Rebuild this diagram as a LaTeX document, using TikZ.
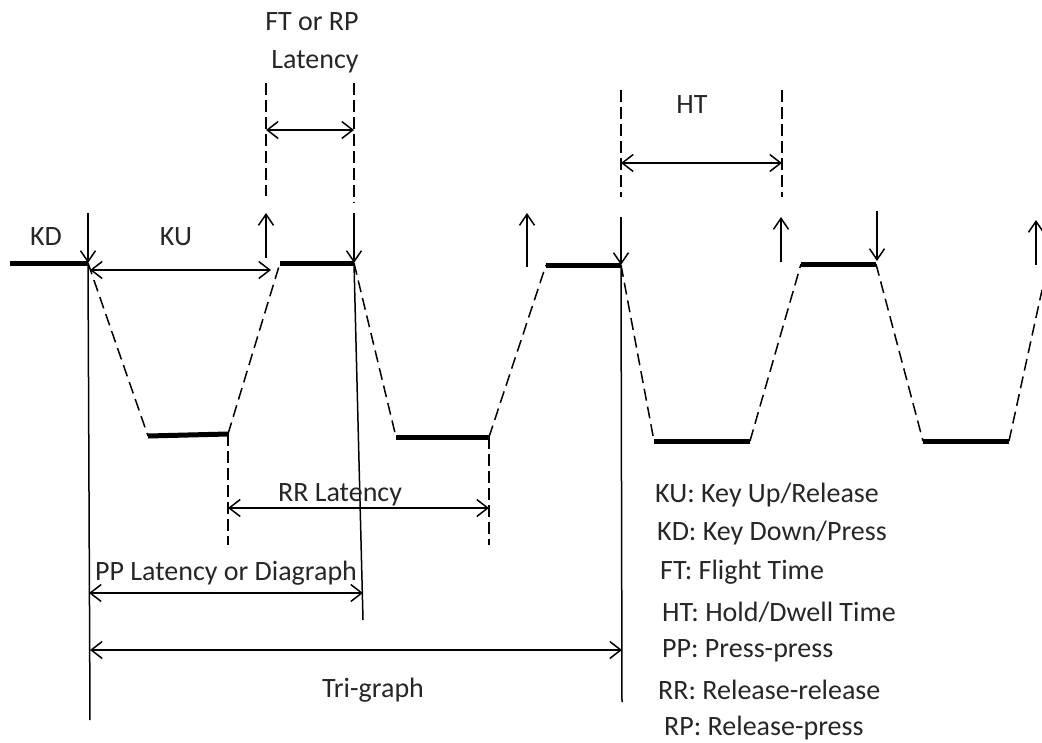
\documentclass[tikz,border=0pt]{standalone}
\usepackage{fontspec}
\setmainfont{Carlito}
\usetikzlibrary{arrows.meta}
\begin{document}
\begin{tikzpicture}[x=1pt,y=-1pt,
  level/.style={line width=5pt},
  slope/.style={line width=1.5pt, dash pattern=on 12pt off 6pt},
  guide/.style={line width=1.3pt, dash pattern=on 12pt off 5pt},
  solidline/.style={line width=1.5pt},
  dimarrow/.style={line width=1.5pt, {Straight Barb[length=11pt,width=17pt]}-{Straight Barb[length=11pt,width=17pt]}},
  keyarrow/.style={line width=1.5pt, -{Straight Barb[length=11pt,width=15pt]}},
  lbl/.style={font=\fontsize{28}{32}\selectfont, inner sep=0pt, text=black!85},
  legend/.style={lbl, anchor=west}]
\useasboundingbox (0,0) rectangle (1042,742);
% waveform points
\coordinate (s0) at (10,263);
\coordinate (d1) at (88,263);
\coordinate (b1l) at (148,436);
\coordinate (b1r) at (228,434);
\coordinate (t1l) at (280,263);
\coordinate (d2) at (354,263);
\coordinate (b2l) at (396,437);
\coordinate (b2r) at (489,437);
\coordinate (t2l) at (546,265);
\coordinate (d3) at (621,265);
\coordinate (b3l) at (654,441);
\coordinate (b3r) at (750,441);
\coordinate (t3l) at (801,264);
\coordinate (d4) at (876,264);
\coordinate (b4l) at (923,441);
\coordinate (b4r) at (1009,441);
\coordinate (eend) at (1042,290);
% levels
\draw[level] (s0) -- (d1);
\draw[level] (b1l) -- (b1r);
\draw[level] (t1l) -- (d2);
\draw[level] (b2l) -- (b2r);
\draw[level] (t2l) -- (d3);
\draw[level] (b3l) -- (b3r);
\draw[level] (t3l) -- (d4);
\draw[level] (b4l) -- (b4r);
% slopes
\draw[slope] (d1) -- (b1l);
\draw[slope] (b1r) -- (t1l);
\draw[slope] (d2) -- (b2l);
\draw[slope] (b2r) -- (t2l);
\draw[slope] (d3) -- (b3l);
\draw[slope] (b3r) -- (t3l);
\draw[slope] (d4) -- (b4l);
\draw[slope] (b4r) -- (eend);
% key arrows
\coordinate (ka1) at (88,213);
\coordinate (ka2a) at (266,258); \coordinate (ka2b) at (266,213);
\coordinate (ka3) at (354,213);
\coordinate (ka4a) at (527,267); \coordinate (ka4b) at (527,213);
\coordinate (ka5) at (621,217);
\coordinate (ka6a) at (781,262); \coordinate (ka6b) at (781,217);
\coordinate (ka7a) at (877,211); \coordinate (ka7b) at (877,261);
\coordinate (ka8a) at (1036,265); \coordinate (ka8b) at (1036,220);
\draw[keyarrow] (ka1) -- (d1);
\draw[keyarrow] (ka2a) -- (ka2b);
\draw[keyarrow] (ka3) -- (d2);
\draw[keyarrow] (ka4a) -- (ka4b);
\draw[keyarrow] (ka5) -- (d3);
\draw[keyarrow] (ka6a) -- (ka6b);
\draw[keyarrow] (ka7a) -- (ka7b);
\draw[keyarrow] (ka8a) -- (ka8b);
% long solid verticals
\coordinate (lv1) at (90,720);
\coordinate (lv2) at (363,620);
\coordinate (lv3) at (622,702);
\draw[solidline] (d1) -- (lv1);
\draw[solidline] (d2) -- (lv2);
\draw[solidline] (d3) -- (lv3);
% dashed guides
\coordinate (g1a) at (266,83);  \coordinate (g1b) at (266,196);
\coordinate (g2a) at (354,83);  \coordinate (g2b) at (354,203);
\coordinate (g3a) at (621,90);  \coordinate (g3b) at (621,197);
\coordinate (g4a) at (782,90);  \coordinate (g4b) at (782,197);
\coordinate (g5b) at (228,545);
\coordinate (g6b) at (489,545);
\draw[guide] (g1a) -- (g1b);
\draw[guide] (g2a) -- (g2b);
\draw[guide] (g3a) -- (g3b);
\draw[guide] (g4a) -- (g4b);
\draw[guide] (b1r) -- (g5b);
\draw[guide] (b2r) -- (g6b);
% dimension arrows
\coordinate (ftl) at (266,130); \coordinate (ftr) at (354,130);
\coordinate (kul) at (90,270);  \coordinate (kur) at (271,270);
\coordinate (htl) at (621,163); \coordinate (htr) at (782,163);
\coordinate (rrl) at (228,508); \coordinate (rrr) at (489,508);
\coordinate (ppl) at (89,593);  \coordinate (ppr) at (363,593);
\coordinate (trl) at (90,650);  \coordinate (trr) at (622,650);
\draw[dimarrow] (ftl) -- (ftr);
\draw[dimarrow] (kul) -- (kur);
\draw[dimarrow] (htl) -- (htr);
\draw[dimarrow] (rrl) -- (rrr);
\draw[dimarrow] (ppl) -- (ppr);
\draw[dimarrow] (trl) -- (trr);
% labels
\node[lbl] (tft) at (312,22) {FT or RP};
\node[lbl] (tlat) at (315,62) {Latency};
\node[lbl] (tkd) at (46,237) {KD};
\node[lbl] (tku) at (176,237) {KU};
\node[lbl] (tht) at (692,105) {HT};
\node[lbl] (trr) at (340,495) {RR Latency};
\node[lbl] (tpp) at (226,573) {PP Latency or Diagraph};
\node[lbl] (ttri) at (373,690) {Tri-graph};
% legend
\node[legend] (l1) at (655,495) {KU: Key Up/Release};
\node[legend] (l2) at (657,533) {KD: Key Down/Press};
\node[legend] (l3) at (660,572) {FT: Flight Time};
\node[legend] (l4) at (662,612) {HT:  Hold/Dwell Time};
\node[legend] (l5) at (662,651) {PP: Press-press};
\node[legend] (l6) at (658,690) {RR: Release-release};
\node[legend] (l7) at (664,728) {RP: Release-press};
\end{tikzpicture}
\end{document}
